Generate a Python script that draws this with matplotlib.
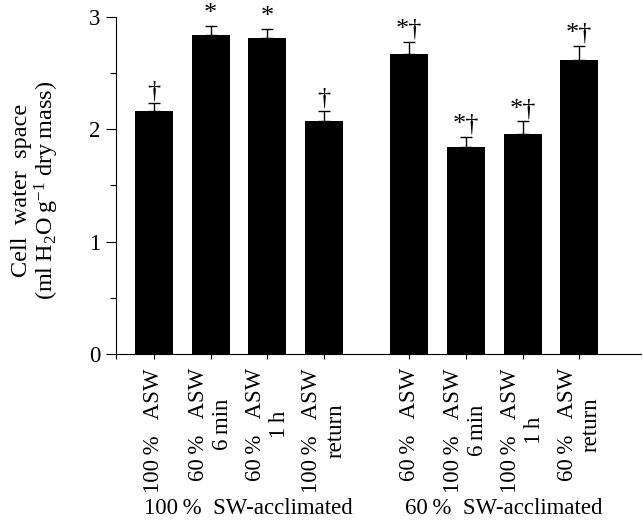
import numpy as np
import matplotlib
matplotlib.use('agg')
from matplotlib import pyplot as plt
from matplotlib import transforms

plt.rcParams['font.family'] = ['Liberation Serif', 'DejaVu Serif']
plt.rcParams['mathtext.fontset'] = 'custom'
plt.rcParams['mathtext.rm'] = 'Liberation Serif'
plt.rcParams['mathtext.it'] = 'Liberation Serif:italic'
plt.rcParams['mathtext.default'] = 'regular'

# data
gap = '  \u2009'
conditions = ['100\u2009%' + gap + 'ASW', '60\u2009%' + gap + 'ASW\n6\u2009min',
              '60\u2009%' + gap + 'ASW\n1\u2009h', '100\u2009%' + gap + 'ASW\nreturn',
              '60\u2009%' + gap + 'ASW', '100\u2009%' + gap + 'ASW\n6\u2009min',
              '100\u2009%' + gap + 'ASW\n1\u2009h', '60\u2009%' + gap + 'ASW\nreturn']
water = [2.16, 2.84, 2.81, 2.07, 2.67, 1.84, 1.96, 2.62]
sem = [0.07, 0.08, 0.08, 0.09, 0.11, 0.09, 0.11, 0.12]
marks = ['\u2020', '*', '*', '\u2020', '*\u2020', '*\u2020', '*\u2020', '*\u2020']
groups = ['100\u2009%  SW-acclimated', '60\u2009%  SW-acclimated']
group_size = 4

pos = np.array([0, 1, 2, 3, 4.5, 5.5, 6.5, 7.5])

fig = plt.figure(figsize=(6.43, 5.26), dpi=100)
ax = fig.add_axes([0.1804, 0.327, 0.8166, 0.6407])

ax.bar(pos, water, width=0.67, color='black', zorder=2)
ax.errorbar(pos, water, yerr=[np.zeros(len(sem)), sem], fmt='none',
            ecolor='black', elinewidth=1.0, capsize=4.5, capthick=1.0, zorder=3)

for x, y, e, m in zip(pos, water, sem, marks):
    ax.annotate(m, (x, y + e), xytext=(0, 1), textcoords='offset points',
                ha='center', va='bottom', fontsize=19)

ax.set_xlim(-0.67, 8.59)
ax.set_ylim(0, 3)
ax.set_yticks([0, 1, 2, 3])
ax.set_yticks([0.5, 1.5, 2.5], minor=True)
ax.set_xticks(list(pos) + [-0.67])
ax.set_xticklabels(conditions + [''], rotation=90, ha='center', va='top')

ax.tick_params(axis='y', which='major', length=7.2, width=0.8, pad=4, labelsize=16.5)
ax.tick_params(axis='y', which='minor', length=4, width=0.8)
ax.tick_params(axis='x', which='major', length=3.6, width=0.8, pad=6.5, labelsize=16.5)

for s in ['top', 'right']:
    ax.spines[s].set_visible(False)
for s in ['left', 'bottom']:
    ax.spines[s].set_linewidth(0.8)

ax.set_ylabel('Cell  water  space\n(ml\u2009H$_2$O\u2009g$^{-1}$ dry\u2009mass)',
              fontsize=17.5, multialignment='center', linespacing=1.05)
ax.yaxis.set_label_coords(-0.105, 0.487)

trans = transforms.blended_transform_factory(ax.transData, fig.transFigure)
for i, g in enumerate(groups):
    xc = pos[i * group_size:(i + 1) * group_size].mean() + 0.17
    ax.text(xc, 0.034, g, transform=trans, ha='center', va='center', fontsize=16.5)

plt.savefig('out.png', dpi=100)
plt.close()
